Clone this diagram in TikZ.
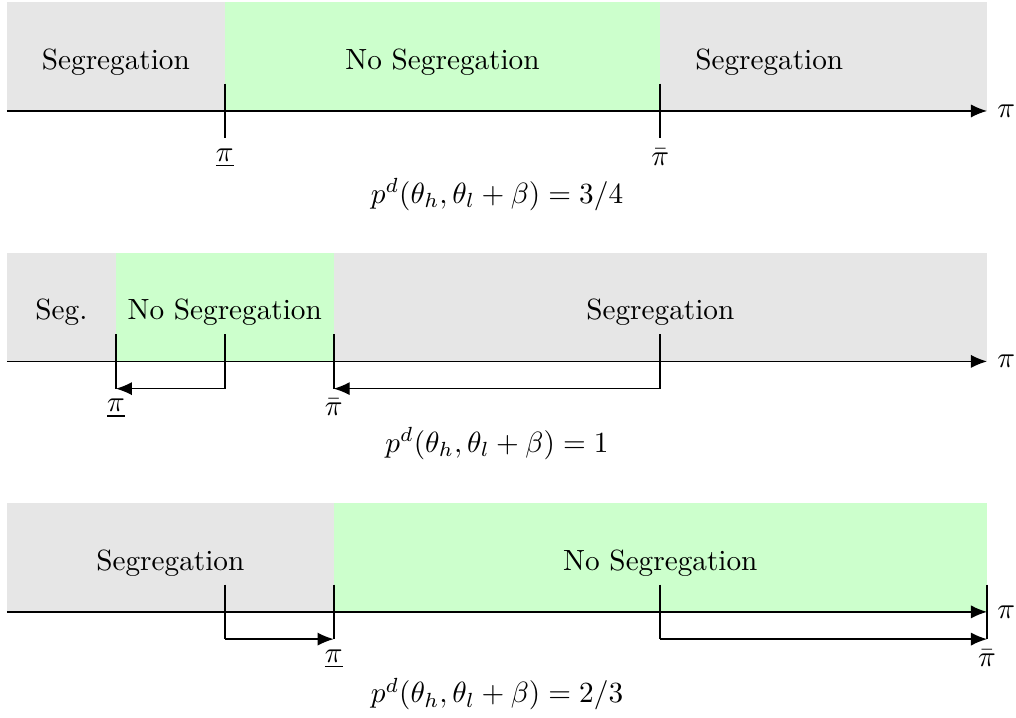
\documentclass[tikz,border=0pt]{standalone}
\usepackage{amsmath}
\usepackage{tikz}
\usetikzlibrary{positioning, arrows.meta, calc}
\definecolor{segfill}{HTML}{E6E6E6}
\definecolor{nosegfill}{HTML}{CCFFCC}

\tikzset{
  axisline/.style={line width=0.45pt, -{Latex[length=5.5pt, width=4.5pt]}},
  tickmark/.style={line width=0.6pt},
  shiftarrow/.style={line width=0.45pt, -{Latex[length=5.5pt, width=4.5pt]}},
  regionlabel/.style={font=\normalsize, inner sep=0pt},
}

\begin{document}
\begin{tikzpicture}[x=1.309cm, y=1.309cm]
  \useasboundingbox (-0.064,1.019) rectangle (9.266,-5.573);

  % --- first case: p^d = 3/4
  \fill[segfill] (0,0) rectangle (9,1);
  \fill[nosegfill] (2,0) rectangle (6,1);
  \node[regionlabel] (segAl) at (1,0.45) {Segregation};
  \node[regionlabel] (nosegA) at (4,0.45) {No Segregation};
  \node[regionlabel] (segAr) at (7,0.45) {Segregation};
  \coordinate (axAs) at (0,0);
  \coordinate (axAe) at (9,0);
  \draw[axisline] (axAs) -- (axAe) node[right] (piA) {$\pi$};
  \coordinate (loA) at (2,0);
  \coordinate (hiA) at (6,0);
  \draw[tickmark] ($(loA)+(0,0.25)$) -- ($(loA)+(0,-0.25)$) node[below] (loAlab) {$\underline{\pi}$};
  \draw[tickmark] ($(hiA)+(0,0.25)$) -- ($(hiA)+(0,-0.25)$) node[below] (hiAlab) {$\bar{\pi}$};
  \node (eqA) at (4.5,-0.77) {$p^d(\theta_h,\theta_l+\beta)=3/4$};

  % --- second case: p^d = 1
  \fill[segfill] (0,-2.3) rectangle (9,-1.3);
  \fill[nosegfill] (1,-2.3) rectangle (3,-1.3);
  \node[regionlabel] (segBl) at (0.5,-1.85) {Seg.};
  \node[regionlabel] (nosegB) at (2,-1.85) {No Segregation};
  \node[regionlabel] (segBr) at (6,-1.85) {Segregation};
  \coordinate (axBs) at (0,-2.3);
  \coordinate (axBe) at (9,-2.3);
  \draw[axisline] (axBs) -- (axBe) node[right] (piB) {$\pi$};
  \coordinate (loBold) at (2,-2.3);
  \coordinate (loB) at (1,-2.3);
  \coordinate (hiBold) at (6,-2.3);
  \coordinate (hiB) at (3,-2.3);
  \draw[tickmark] ($(loBold)+(0,0.25)$) -- ($(loBold)+(0,-0.25)$);
  \draw[tickmark] ($(loB)+(0,0.25)$) -- ($(loB)+(0,-0.25)$) node[below] (loBlab) {$\underline{\pi}$};
  \draw[tickmark] ($(hiBold)+(0,0.25)$) -- ($(hiBold)+(0,-0.25)$);
  \draw[tickmark] ($(hiB)+(0,0.25)$) -- ($(hiB)+(0,-0.25)$) node[below] (hiBlab) {$\bar{\pi}$};
  \draw[shiftarrow] ($(loBold)+(0,-0.25)$) -- ($(loB)+(0,-0.25)$);
  \draw[shiftarrow] ($(hiBold)+(0,-0.25)$) -- ($(hiB)+(0,-0.25)$);
  \node (eqB) at (4.5,-3.055) {$p^d(\theta_h,\theta_l+\beta)=1$};

  % --- third case: p^d = 2/3
  \fill[segfill] (0,-4.6) rectangle (9,-3.6);
  \fill[nosegfill] (3,-4.6) rectangle (9,-3.6);
  \node[regionlabel] (segC) at (1.5,-4.15) {Segregation};
  \node[regionlabel] (nosegC) at (6,-4.15) {No Segregation};
  \coordinate (axCs) at (0,-4.6);
  \coordinate (axCe) at (9,-4.6);
  \draw[axisline] (axCs) -- (axCe) node[right] (piC) {$\pi$};
  \coordinate (loCold) at (2,-4.6);
  \coordinate (loC) at (3,-4.6);
  \coordinate (hiCold) at (6,-4.6);
  \coordinate (hiC) at (9,-4.6);
  \draw[tickmark] ($(loCold)+(0,0.25)$) -- ($(loCold)+(0,-0.25)$);
  \draw[tickmark] ($(loC)+(0,0.25)$) -- ($(loC)+(0,-0.25)$) node[below] (loClab) {$\underline{\pi}$};
  \draw[tickmark] ($(hiCold)+(0,0.25)$) -- ($(hiCold)+(0,-0.25)$);
  \draw[tickmark] ($(hiC)+(0,0.25)$) -- ($(hiC)+(0,-0.25)$) node[below] (hiClab) {$\bar{\pi}$};
  \draw[shiftarrow] ($(loCold)+(0,-0.25)$) -- ($(loC)+(0,-0.25)$);
  \draw[shiftarrow] ($(hiCold)+(0,-0.25)$) -- ($(hiC)+(0,-0.25)$);
  \node (eqC) at (4.5,-5.355) {$p^d(\theta_h,\theta_l+\beta)=2/3$};
\end{tikzpicture}
\end{document}
